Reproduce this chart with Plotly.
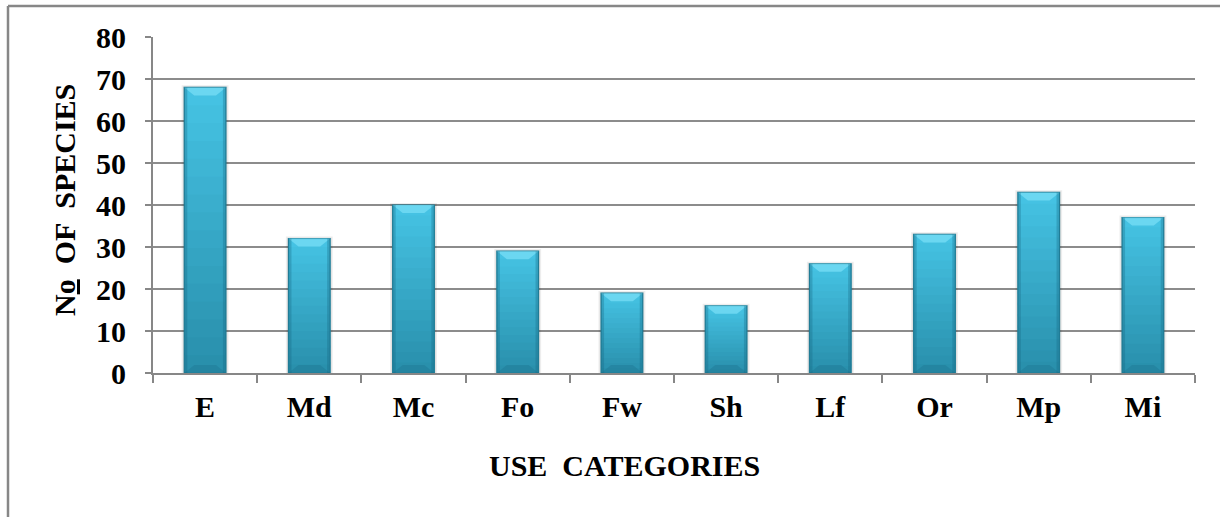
import plotly.graph_objects as go

# Number of plant species recorded per use category
categories = ["E", "Md", "Mc", "Fo", "Fw", "Sh", "Lf", "Or", "Mp", "Mi"]
species = [68, 32, 40, 29, 19, 16, 26, 33, 43, 37]
y_ticks = [0, 10, 20, 30, 40, 50, 60, 70, 80]

W, H = 1220, 517
L, R, T, B = 153, 25, 37, 144
BAR_W = 0.40
FONT = "Liberation Serif"

TOP_RGB = (70, 196, 229)
BOT_RGB = (40, 142, 170)
N_SEG = 16


def mix(a, b, t):
    return "rgb(%d,%d,%d)" % tuple(round(a[i] + (b[i] - a[i]) * t) for i in range(3))


fig = go.Figure()

# soft shadow behind each bar
fig.add_trace(go.Bar(
    x=categories, y=[v + 0.5 for v in species], width=BAR_W + 0.05,
    marker=dict(color="rgba(0,0,0,0.07)", line=dict(width=0)),
    hoverinfo="skip", showlegend=False,
))
fig.add_trace(go.Bar(
    x=categories, y=[v + 0.2 for v in species], width=BAR_W + 0.025,
    marker=dict(color="rgba(0,0,0,0.09)", line=dict(width=0)),
    hoverinfo="skip", showlegend=False,
))

# bar body: vertical gradient built from stacked slices of each value;
# each slice reaches a little past the next one so no seams show
for k in range(N_SEG):
    t = 1 - (k + 0.5) / N_SEG          # 0 at top, 1 at bottom
    last = k == N_SEG - 1
    fig.add_trace(go.Bar(
        x=categories,
        y=[v / N_SEG if last else v / N_SEG + 0.6 for v in species],
        base=[v * k / N_SEG for v in species],
        width=BAR_W,
        marker=dict(color=mix(TOP_RGB, BOT_RGB, t), line=dict(width=0)),
        hoverinfo="skip", showlegend=False,
    ))

# outline of each bar
fig.add_trace(go.Bar(
    x=categories, y=species, width=BAR_W,
    marker=dict(color="rgba(0,0,0,0)", line=dict(color="#23819b", width=1.2)),
    hovertemplate="%{x}: %{y}<extra></extra>", showlegend=False,
))

# bevelled top and bottom faces, darker side edges
px_per_unit = (H - T - B) / 80.0
cat_px = (W - L - R) / len(categories)
dy = 8 / px_per_unit
dx = 10 / cat_px
shapes = []
for i, v in enumerate(species):
    x0, x1 = i - BAR_W / 2, i + BAR_W / 2
    shapes.append(dict(
        type="path", xref="x", yref="y", layer="above",
        path=f"M {x0},{v} L {x1},{v} L {x1 - dx},{v - dy} L {x0 + dx},{v - dy} Z",
        fillcolor="rgba(120,222,245,0.75)", line=dict(width=0),
    ))
    shapes.append(dict(
        type="path", xref="x", yref="y", layer="above",
        path=f"M {x0},0 L {x1},0 L {x1 - dx},{dy} L {x0 + dx},{dy} Z",
        fillcolor="rgba(30,120,148,0.45)", line=dict(width=0),
    ))
    for xe, sgn in ((x0, 1), (x1, -1)):
        shapes.append(dict(
            type="rect", xref="x", yref="y", layer="above",
            x0=xe, x1=xe + sgn * 3 / cat_px, y0=0, y1=v,
            fillcolor="rgba(20,100,125,0.30)", line=dict(width=0),
        ))

# outer chart frame (only left and top edges fall inside the page)
pw, ph = W - L - R, H - T - B
fx = (8 - L) / pw
fy = 1 + (T - 6) / ph
shapes.append(dict(type="line", xref="paper", yref="paper", x0=fx, x1=(W + 10 - L) / pw,
                   y0=fy, y1=fy, line=dict(color="#878787", width=2.5)))
shapes.append(dict(type="line", xref="paper", yref="paper", x0=fx, x1=fx,
                   y0=fy, y1=-(B + 10) / ph, line=dict(color="#878787", width=2.5)))

fig.update_layout(
    width=W, height=H,
    margin=dict(l=L, r=R, t=T, b=B, pad=0),
    paper_bgcolor="white", plot_bgcolor="white",
    barmode="overlay", bargap=0.6,
    shapes=shapes,
    font=dict(family=FONT, color="black"),
    xaxis=dict(
        type="category", categoryorder="array", categoryarray=categories,
        showline=True, linecolor="#878787", linewidth=2,
        ticks="outside", tickson="boundaries", ticklen=8, tickcolor="#878787", tickwidth=2,
        tickfont=dict(family=FONT, size=30, color="black", weight="bold"),
        ticklabelstandoff=6,
        showgrid=False, range=[-0.5, 9.5],
    ),
    yaxis=dict(
        range=[0, 80], tickmode="array", tickvals=y_ticks,
        showline=True, linecolor="#878787", linewidth=2,
        ticks="outside", ticklen=6, tickcolor="#878787", tickwidth=2,
        showgrid=True, gridcolor="#8c8c8c", gridwidth=2,
        zeroline=False,
        tickfont=dict(family=FONT, size=30, color="black", weight="bold"),
        ticklabelstandoff=13,
    ),
    annotations=[
        dict(text="USE  CATEGORIES", xref="paper", yref="paper",
             x=(624 - L) / pw, y=-(465 - (H - B)) / ph, xanchor="center", yanchor="middle",
             showarrow=False, font=dict(family=FONT, size=30, color="black", weight="bold")),
        dict(text="N<u>o</u>  OF  SPECIES", xref="paper", yref="paper",
             x=(64 - L) / pw, y=1 - (200 - T) / ph, xanchor="center", yanchor="middle",
             textangle=-90, showarrow=False,
             font=dict(family=FONT, size=30, color="black", weight="bold")),
    ],
)

fig.write_html("out.html")
